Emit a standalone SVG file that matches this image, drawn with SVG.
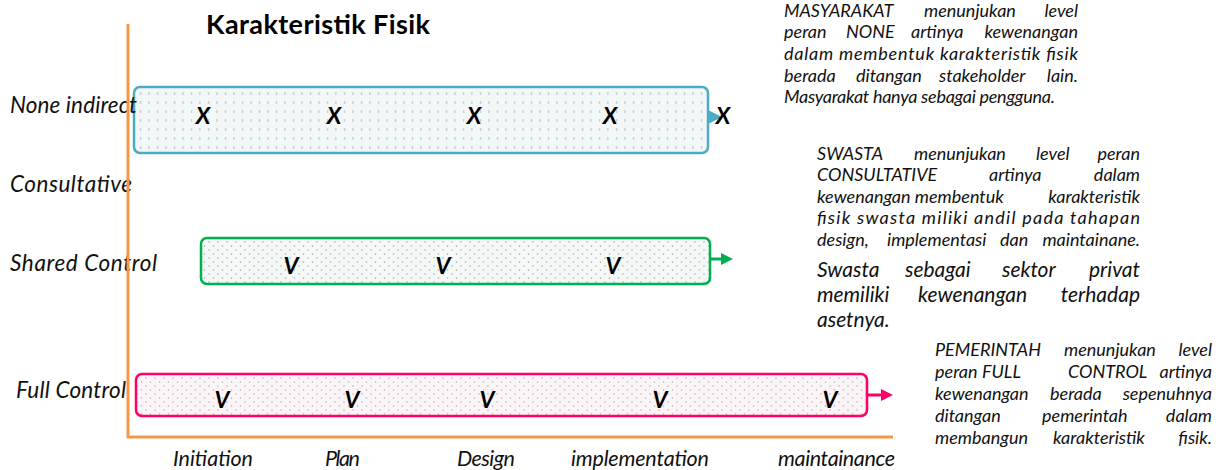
<svg xmlns="http://www.w3.org/2000/svg" width="1225" height="470" viewBox="0 0 1225 470">
<style>
.lbl{font-family:Lato,"Liberation Sans",sans-serif;font-style:italic;font-size:22.5px;fill:#111}
.ph{font-family:Lato,"Liberation Sans",sans-serif;font-style:italic;font-size:21.5px;fill:#111}
.mk{font-family:Lato,"Liberation Sans",sans-serif;font-style:italic;font-weight:bold;font-size:23px;fill:#000;text-anchor:middle}
.note{font-family:Lato,"Liberation Sans",sans-serif;font-style:italic;font-size:18px;fill:#111}
.note2{font-family:Lato,"Liberation Sans",sans-serif;font-style:italic;font-size:21px;fill:#111}
.r{text-anchor:end}
.title{font-family:Lato,"Liberation Sans",sans-serif;font-weight:bold;font-size:27px;fill:#000}
.axis{stroke:#f79646;stroke-width:3;fill:none}
</style>
<defs>
<pattern id="pBlue" width="8.5" height="9" patternUnits="userSpaceOnUse">
<rect width="8.5" height="9" fill="#f3f7f8"/>
<rect x="4" y="2" width="1" height="3" fill="#b4bcbe"/>
</pattern>
<pattern id="pGreen" width="9" height="8" patternUnits="userSpaceOnUse">
<rect width="9" height="8" fill="#f4f8f6"/>
<circle cx="2" cy="2" r="0.8" fill="#a8aeaa"/>
<circle cx="6.5" cy="6" r="0.8" fill="#a8aeaa"/>
</pattern>
<pattern id="pPink" width="9" height="8" patternUnits="userSpaceOnUse">
<rect width="9" height="8" fill="#faf5f7"/>
<circle cx="2" cy="2" r="0.8" fill="#c9a7b4"/>
<circle cx="6.5" cy="6" r="0.8" fill="#c9a7b4"/>
</pattern>
<marker id="aBlue" markerWidth="4" markerHeight="4" refX="2" refY="2" orient="auto" markerUnits="strokeWidth"><path d="M0,0 L4,2 L0,4 Z" fill="#4bacc6"/></marker>
<marker id="aGreen" markerWidth="4" markerHeight="4" refX="2" refY="2" orient="auto" markerUnits="strokeWidth"><path d="M0,0 L4,2 L0,4 Z" fill="#00b050"/></marker>
<marker id="aPink" markerWidth="4" markerHeight="4" refX="2" refY="2" orient="auto" markerUnits="strokeWidth"><path d="M0,0 L4,2 L0,4 Z" fill="#ff0066"/></marker>
</defs>

<text class="title" x="206" y="34" textLength="224">Karakteristik Fisik</text>

<g id="connectors">
<line x1="709" y1="117" x2="714" y2="117" stroke="#4bacc6" stroke-width="4" marker-end="url(#aBlue)"/>
<line x1="711" y1="259" x2="727" y2="259" stroke="#00b050" stroke-width="3" marker-end="url(#aGreen)"/>
<line x1="868" y1="395" x2="887" y2="395" stroke="#ff0066" stroke-width="3" marker-end="url(#aPink)"/>
</g>

<g id="none-indirect">
<rect x="134" y="87" width="574" height="66" rx="6" fill="url(#pBlue)" stroke="#4bacc6" stroke-width="2.5"/>
<text class="mk" x="203" y="124">X</text>
<text class="mk" x="334" y="124">X</text>
<text class="mk" x="474" y="124">X</text>
<text class="mk" x="610" y="124">X</text>
<text class="mk" x="723" y="124">X</text>
</g>

<g id="shared-control">
<rect x="201" y="238" width="509" height="46" rx="6" fill="url(#pGreen)" stroke="#00b050" stroke-width="2.5"/>
<text class="mk" x="291" y="274">V</text>
<text class="mk" x="443" y="274">V</text>
<text class="mk" x="613" y="274">V</text>
</g>

<g id="full-control">
<rect x="136" y="374" width="731" height="42" rx="6" fill="url(#pPink)" stroke="#ff0066" stroke-width="2.5"/>
<text class="mk" x="222" y="408">V</text>
<text class="mk" x="352" y="408">V</text>
<text class="mk" x="487" y="408">V</text>
<text class="mk" x="660" y="408">V</text>
<text class="mk" x="830" y="408">V</text>
</g>

<g id="row-labels">
<text class="lbl" x="10" y="113" textLength="127">None indirect</text>
<text class="lbl" x="10" y="192" textLength="122">Consultative</text>
<text class="lbl" x="10" y="271" textLength="147">Shared Control</text>
<text class="lbl" x="16" y="398" textLength="110">Full Control</text>
</g>

<g id="axes">
<line class="axis" x1="128" y1="24" x2="128" y2="438"/>
<line class="axis" x1="127" y1="437" x2="893" y2="437"/>
</g>

<g id="phase-labels">
<text class="ph" x="173" y="466" textLength="80">Initiation</text>
<text class="ph" x="325" y="466" textLength="35">Plan</text>
<text class="ph" x="457" y="466" textLength="58">Design</text>
<text class="ph" x="571" y="466" textLength="138">implementation</text>
<text class="ph" x="778" y="466" textLength="117">maintainance</text>
</g>

<g id="note-masyarakat" class="note">
<text y="17" x="784">MASYARAKAT</text>
<text y="17" x="924">menunjukan</text>
<text y="17" x="1078" class="r">level</text>
<text y="38" x="784">peran</text>
<text y="38" x="846">NONE</text>
<text y="38" x="911">artinya</text>
<text y="38" x="1078" class="r">kewenangan</text>
<text y="60" x="784" textLength="294">dalam membentuk karakteristik fisik</text>
<text y="82" x="784">berada</text>
<text y="82" x="856">ditangan</text>
<text y="82" x="939">stakeholder</text>
<text y="82" x="1078" class="r">lain.</text>
<text y="103" x="784" textLength="271">Masyarakat hanya sebagai pengguna.</text>
</g>

<g id="note-swasta">
<g class="note">
<text y="160" x="817">SWASTA</text>
<text y="160" x="914">menunjukan</text>
<text y="160" x="1036">level</text>
<text y="160" x="1140" class="r">peran</text>
<text y="181" x="817">CONSULTATIVE</text>
<text y="181" x="989">artinya</text>
<text y="181" x="1140" class="r">dalam</text>
<text y="203" x="817">kewenangan membentuk</text>
<text y="203" x="1140" class="r">karakteristik</text>
<text y="224" x="817" textLength="323">fisik swasta miliki andil pada tahapan</text>
<text y="246" x="817">design,</text>
<text y="246" x="887">implementasi</text>
<text y="246" x="1000">dan</text>
<text y="246" x="1140" class="r">maintainane.</text>
</g>
<g class="note2">
<text y="277" x="817">Swasta</text>
<text y="277" x="905">sebagai</text>
<text y="277" x="1002">sektor</text>
<text y="277" x="1140" class="r">privat</text>
<text y="302" x="817">memiliki</text>
<text y="302" x="918">kewenangan</text>
<text y="302" x="1140" class="r">terhadap</text>
<text y="327" x="817">asetnya.</text>
</g>
</g>

<g id="note-pemerintah" class="note">
<text y="356" x="935">PEMERINTAH</text>
<text y="356" x="1064">menunjukan</text>
<text y="356" x="1212" class="r">level</text>
<text y="378" x="935">peran</text>
<text y="378" x="982">FULL</text>
<text y="378" x="1068">CONTROL</text>
<text y="378" x="1212" class="r">artinya</text>
<text y="400" x="935">kewenangan</text>
<text y="400" x="1050">berada</text>
<text y="400" x="1212" class="r">sepenuhnya</text>
<text y="422" x="935">ditangan</text>
<text y="422" x="1042">pemerintah</text>
<text y="422" x="1212" class="r">dalam</text>
<text y="444" x="935">membangun</text>
<text y="444" x="1053">karakteristik</text>
<text y="444" x="1212" class="r">fisik.</text>
</g>
</svg>
